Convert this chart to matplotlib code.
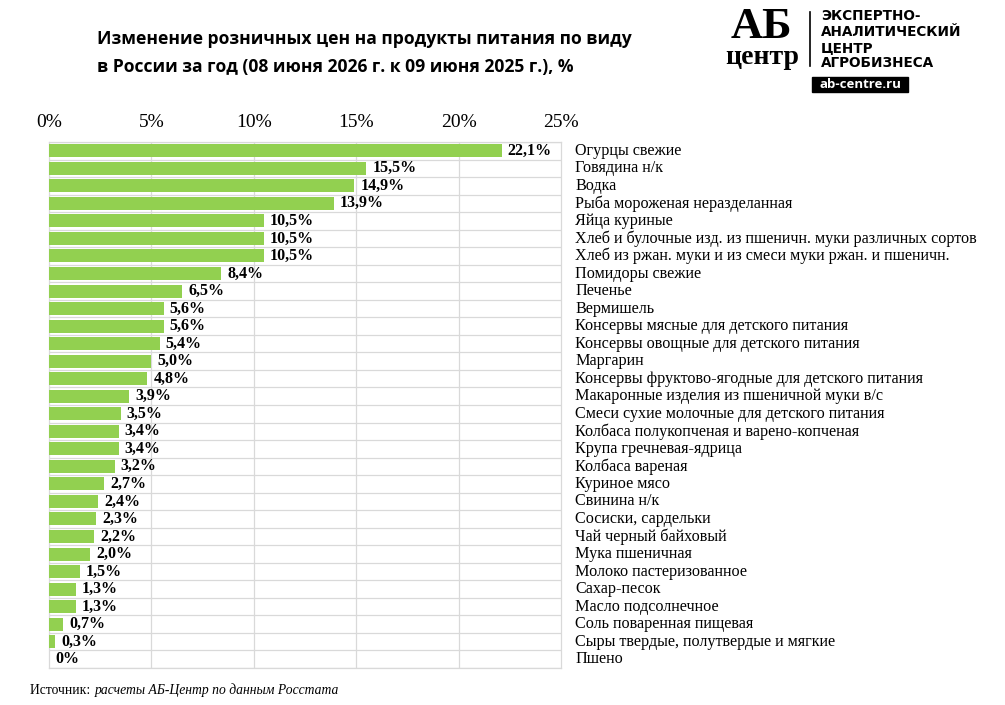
import matplotlib
matplotlib.use("Agg")
import matplotlib.pyplot as plt
from matplotlib.patches import Rectangle

categories = [
    "Огурцы свежие", "Говядина н/к", "Водка", "Рыба мороженая неразделанная",
    "Яйца куриные", "Хлеб и булочные изд. из пшеничн. муки различных сортов",
    "Хлеб из ржан. муки и из смеси муки ржан. и пшеничн.", "Помидоры свежие",
    "Печенье", "Вермишель", "Консервы мясные для детского питания",
    "Консервы овощные для детского питания", "Маргарин",
    "Консервы фруктово-ягодные для детского питания",
    "Макаронные изделия из пшеничной муки в/с",
    "Смеси сухие молочные для детского питания",
    "Колбаса полукопченая и варено-копченая", "Крупа гречневая-ядрица",
    "Колбаса вареная", "Куриное мясо", "Свинина н/к", "Сосиски, сардельки",
    "Чай черный байховый", "Мука пшеничная", "Молоко пастеризованное",
    "Сахар-песок", "Масло подсолнечное", "Соль поваренная пищевая",
    "Сыры твердые, полутвердые и мягкие", "Пшено",
]
values = [22.1, 15.5, 14.9, 13.9, 10.5, 10.5, 10.5, 8.4, 6.5, 5.6, 5.6, 5.4,
          5.0, 4.8, 3.9, 3.5, 3.4, 3.4, 3.2, 2.7, 2.4, 2.3, 2.2, 2.0, 1.5,
          1.3, 1.3, 0.7, 0.3, 0.0]
xticks = [0, 5, 10, 15, 20, 25]
xtick_labels = ["0%", "5%", "10%", "15%", "20%", "25%"]

title_lines = ["Изменение розничных цен на продукты питания по виду",
               "в России за год (08 июня 2026 г. к 09 июня 2025 г.), %"]

SERIF = ["Liberation Serif", "DejaVu Serif"]
SANS = ["Open Sans", "DejaVu Sans"]
GREEN = "#92d050"
GRID = "#d9d9d9"

W, H = 1005, 705
fig = plt.figure(figsize=(W / 100, H / 100), dpi=100)

def fx(px):
    return px / W

def fy(py):
    return 1 - py / H

ax = fig.add_axes([fx(49), fy(668), fx(561) - fx(49), fy(142) - fy(668)])
n = len(categories)
ypos = list(range(n))
ax.barh(ypos, values, height=0.74, color=GREEN, zorder=3)
ax.set_xlim(0, 25)
ax.set_ylim(n - 0.5, -0.5)
ax.set_yticks([])
for b in range(n + 1):
    ax.axhline(b - 0.5, color=GRID, lw=0.9, zorder=1)
for t in xticks[1:-1]:
    ax.axvline(t, color=GRID, lw=0.9, zorder=1)
for s in ax.spines.values():
    s.set_color(GRID)
    s.set_linewidth(0.9)
ax.xaxis.tick_top()
ax.set_xticks(xticks)
ax.set_xticklabels(xtick_labels, family=SERIF, fontsize=14)
ax.tick_params(axis="x", length=0, pad=8)

for i, (v, c) in enumerate(zip(values, categories)):
    lab = "0%" if v == 0 else f"{v:.1f}".replace(".", ",") + "%"
    ax.text(v + 0.3, i, lab, va="center", ha="left", family=SERIF,
            fontweight="bold", fontsize=11.5, zorder=4)
    ax.text(25.7, i, c, va="center", ha="left", family=SERIF, fontsize=11.6,
            clip_on=False)

# Title
fig.text(fx(97), fy(39), title_lines[0], family=SANS, fontweight="bold",
         fontsize=12.6, va="center", ha="left")
fig.text(fx(97), fy(67), title_lines[1], family=SANS, fontweight="bold",
         fontsize=12.6, va="center", ha="left")

# Logo
fig.text(fx(761), fy(27), "АБ", family=SERIF, fontweight="bold", fontsize=32,
         ha="center", va="center")
fig.text(fx(762), fy(58), "центр", family=SERIF, fontweight="bold",
         fontsize=20, ha="center", va="center")
fig.add_artist(plt.Line2D([fx(810), fx(810)], [fy(12), fy(66)],
                          color="black", lw=1.2))
logo_lines = ["ЭКСПЕРТНО-", "АНАЛИТИЧЕСКИЙ", "ЦЕНТР", "АГРОБИЗНЕСА"]
for k, t in enumerate(logo_lines):
    fig.text(fx(821), fy([16, 32, 48, 63][k]), t, family=["DejaVu Sans"],
             fontweight="bold", fontsize=9.8, ha="left", va="center")
fig.add_artist(Rectangle((fx(812), fy(92)), fx(908) - fx(812), fy(77) - fy(92),
                         transform=fig.transFigure, color="black"))
fig.text(fx(860), fy(84.5), "ab-centre.ru", family=SANS, fontweight="bold",
         fontsize=9.5, color="white", ha="center", va="center")

# Source
fig.text(fx(30), fy(690), "Источник: ", family=SERIF, fontsize=9.8,
         ha="left", va="center")
fig.text(fx(95), fy(690), "расчеты АБ-Центр по данным Росстата", family=SERIF,
         style="italic", fontsize=9.8, ha="left", va="center")

fig.savefig("out.png", dpi=100)
